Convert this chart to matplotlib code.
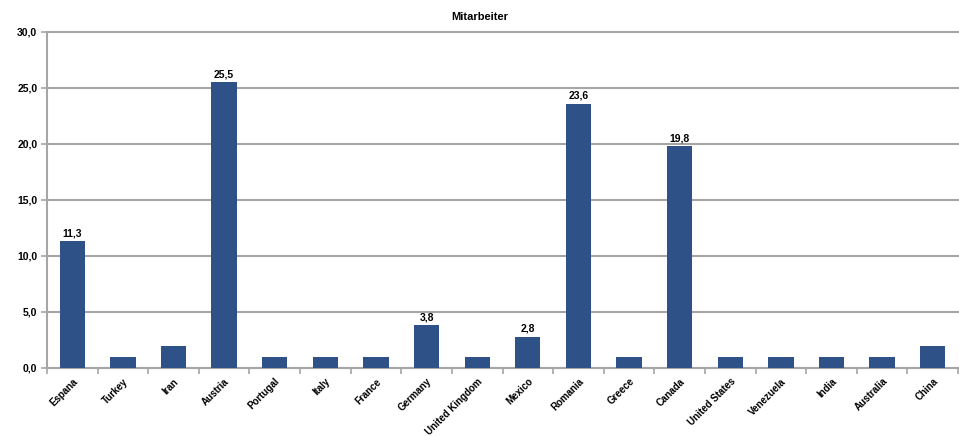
import numpy as np
import matplotlib
matplotlib.use("Agg")
import matplotlib.pyplot as plt

# ── Data ──────────────────────────────────────────────────────────────────────
COUNTRIES = ["Espana", "Turkey", "Iran", "Austria", "Portugal", "Italy",
             "France", "Germany", "United Kingdom", "Mexico", "Romania",
             "Greece", "Canada", "United States", "Venezuela", "India",
             "Australia", "China"]
VALUES = [11.3, 1.0, 2.0, 25.5, 1.0, 1.0, 1.0, 3.8, 1.0, 2.8, 23.6,
          1.0, 19.8, 1.0, 1.0, 1.0, 1.0, 2.0]
LABELLED = ["Espana", "Austria", "Germany", "Mexico", "Romania", "Canada"]
Y_TICKS = [0, 5, 10, 15, 20, 25, 30]

BAR_COLOR  = "#2E5187"
GRID_COLOR = "#a6a6a6"
FONT = ["Liberation Sans Narrow", "Liberation Sans", "DejaVu Sans"]

plt.rcParams["font.family"] = FONT
plt.rcParams["font.weight"] = "bold"

fig = plt.figure(figsize=(9.59, 4.36), dpi=100)
ax = fig.add_axes([0.049, 0.156, 0.95, 0.771])

x = np.arange(len(COUNTRIES))
bars = ax.bar(x, VALUES, width=0.5, color=BAR_COLOR, zorder=3)

for xi, name, val in zip(x, COUNTRIES, VALUES):
    if name in LABELLED:
        ax.text(xi, val + 0.25, f"{val:.1f}".replace(".", ","),
                ha="center", va="bottom", fontsize=7.5, fontweight="bold")

ax.set_xlim(-0.5, len(COUNTRIES) - 0.5)
ax.set_ylim(0, 30)
ax.set_yticks(Y_TICKS)
ax.set_yticklabels([f"{v:.1f}".replace(".", ",") for v in Y_TICKS],
                   fontsize=7.5, fontweight="bold")
ax.yaxis.grid(True, color=GRID_COLOR, lw=1.5, zorder=0)
for line in ax.get_ygridlines():
    line.set_clip_on(False)

# category labels at centres, tick marks at category boundaries
ax.set_xticks(x)
ax.set_xticklabels(COUNTRIES, rotation=45, ha="right", rotation_mode="anchor",
                   fontsize=7, fontweight="bold")
ax.tick_params(axis="x", which="major", length=0, pad=6)
ax.set_xticks(np.arange(-0.5, len(COUNTRIES), 1.0), minor=True)
ax.tick_params(axis="x", which="minor", length=4, color=GRID_COLOR, width=1.2)
ax.tick_params(axis="y", length=4, color=GRID_COLOR, width=1.2, pad=3)

for side in ["top", "right"]:
    ax.spines[side].set_visible(False)
for side in ["left", "bottom"]:
    ax.spines[side].set_color(GRID_COLOR)
    ax.spines[side].set_linewidth(1.5)

fig.text(0.5, 0.962, "Mitarbeiter", ha="center", va="center",
         fontsize=8, fontweight="bold")

fig.savefig("out.png", dpi=100)
